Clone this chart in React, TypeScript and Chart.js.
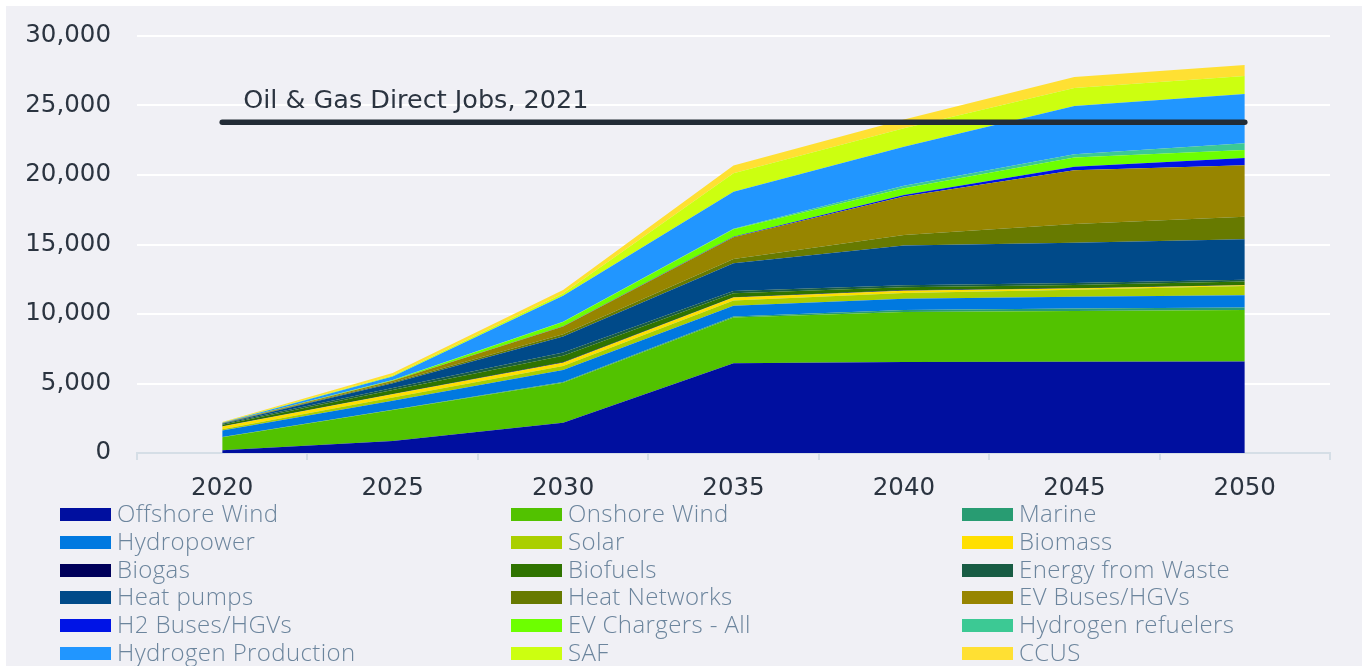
import React, { useEffect, useRef } from 'react';
import { Chart, registerables } from 'chart.js';

Chart.register(...registerables);

// ---------- data ----------
const years = ['2020', '2025', '2030', '2035', '2040', '2045', '2050'];

const offshoreWind = [200, 860, 2180, 6450, 6550, 6570, 6580];
const onshoreWind = [930, 2230, 2880, 3290, 3590, 3650, 3700];
const marine = [20, 30, 50, 80, 150, 170, 180];
const hydropower = [460, 640, 860, 780, 800, 850, 880];
const solar = [100, 240, 290, 380, 420, 500, 670];
const biomass = [190, 220, 240, 200, 170, 100, 60];
const biogas = [20, 30, 30, 20, 20, 20, 20];
const biofuels = [120, 290, 460, 300, 220, 230, 250];
const energyFromWaste = [60, 140, 240, 160, 150, 140, 130];
const heatPumps = [30, 330, 1150, 2000, 2850, 2900, 2900];
const heatNetworks = [10, 80, 170, 290, 770, 1340, 1630];
const evBusesHgvs = [10, 100, 550, 1580, 2760, 3880, 3700];
const h2BusesHgvs = [0, 5, 20, 30, 120, 240, 530];
const evChargersAll = [10, 40, 300, 540, 480, 670, 575];
const hydrogenRefuelers = [5, 10, 20, 40, 170, 240, 480];
const hydrogenProduction = [20, 250, 1880, 2660, 2820, 3460, 3540];
const saf = [10, 80, 150, 1320, 1320, 1300, 1300];
const ccus = [30, 180, 250, 560, 640, 790, 790];

const oilGasDirectJobs2021 = [23800, 23800, 23800, 23800, 23800, 23800, 23800];
const oilGasLabel = 'Oil & Gas Direct Jobs, 2021';

const seriesNames = [
  'Offshore Wind', 'Onshore Wind', 'Marine',
  'Hydropower', 'Solar', 'Biomass',
  'Biogas', 'Biofuels', 'Energy from Waste',
  'Heat pumps', 'Heat Networks', 'EV Buses/HGVs',
  'H2 Buses/HGVs', 'EV Chargers - All', 'Hydrogen refuelers',
  'Hydrogen Production', 'SAF', 'CCUS',
];
const seriesValues = [
  offshoreWind, onshoreWind, marine,
  hydropower, solar, biomass,
  biogas, biofuels, energyFromWaste,
  heatPumps, heatNetworks, evBusesHgvs,
  h2BusesHgvs, evChargersAll, hydrogenRefuelers,
  hydrogenProduction, saf, ccus,
];
const seriesColors = [
  '#000f9f', '#52c200', '#289c72',
  '#0079e0', '#aacf00', '#ffdf00',
  '#00005a', '#2f7300', '#185c44',
  '#004a89', '#677a00', '#978500',
  '#0014e6', '#6dff00', '#3cc994',
  '#2196ff', '#ccff10', '#ffe033',
];

const yTicks = { min: 0, max: 30000, step: 5000 };

const TICK_COLOR = '#2b3440';
const AXIS_COLOR = '#d5dee6';
const BG = '#f0f0f5';

export default function App() {
  const canvasRef = useRef<HTMLCanvasElement | null>(null);

  useEffect(() => {
    if (!canvasRef.current) return;

    const labelPlugin = {
      id: 'oilGasLabel',
      afterDatasetsDraw(chart: any) {
        const { ctx, scales } = chart;
        const x = scales.x.getPixelForValue(0) + 21;
        const y = scales.y.getPixelForValue(oilGasDirectJobs2021[0]) - 14;
        ctx.save();
        ctx.font = '25.5px "DejaVu Sans"';
        ctx.fillStyle = TICK_COLOR;
        ctx.textAlign = 'left';
        ctx.textBaseline = 'alphabetic';
        ctx.fillText(oilGasLabel, x, y);
        ctx.restore();
      },
    };

    const datasets: any[] = [
      {
        type: 'line',
        label: oilGasLabel,
        data: oilGasDirectJobs2021,
        stack: 'oil',
        fill: false,
        borderColor: '#222c36',
        borderWidth: 5.5,
        borderCapStyle: 'round',
        pointRadius: 0,
        tension: 0,
      },
      ...seriesNames.map((name, i) => ({
        type: 'line',
        label: name,
        data: seriesValues[i],
        stack: 'jobs',
        fill: i === 0 ? 'origin' : '-1',
        backgroundColor: seriesColors[i],
        borderColor: seriesColors[i],
        borderWidth: 0,
        pointRadius: 0,
        tension: 0,
      })),
    ];

    const chart = new Chart(canvasRef.current, {
      type: 'line',
      data: { labels: years, datasets },
      plugins: [labelPlugin],
      options: {
        animation: false,
        responsive: false,
        devicePixelRatio: 1,
        layout: { padding: { top: 30, right: 32, left: 0, bottom: 0 } },
        plugins: {
          legend: { display: false },
          tooltip: { enabled: false },
        },
        scales: {
          x: {
            type: 'category',
            offset: true,
            grid: {
              display: true,
              drawOnChartArea: false,
              drawTicks: true,
              tickLength: 7,
              color: AXIS_COLOR,
              lineWidth: 2,
              offset: true,
            },
            border: { display: true, color: AXIS_COLOR, width: 2 },
            ticks: {
              color: TICK_COLOR,
              font: { family: '"DejaVu Sans"', size: 24.5 },
              padding: 14,
              maxRotation: 0,
              autoSkip: false,
            },
            afterFit(scale: any) {
              scale.height = 47;
            },
          },
          y: {
            stacked: true,
            min: yTicks.min,
            max: yTicks.max,
            grid: {
              drawTicks: false,
              lineWidth: 2,
              color: (ctx: any) => (ctx.tick && ctx.tick.value === 0 ? 'rgba(0,0,0,0)' : '#ffffff'),
            },
            border: { display: false },
            ticks: {
              stepSize: yTicks.step,
              color: TICK_COLOR,
              font: { family: '"DejaVu Sans"', size: 24.5 },
              padding: 26,
            },
            afterFit(scale: any) {
              scale.width = 131;
              scale.paddingTop = 10;
              scale.paddingBottom = 10;
            },
          },
        },
      } as any,
    });

    return () => chart.destroy();
  }, []);

  return (
    <div
      style={{
        position: 'absolute',
        left: 6,
        top: 6,
        width: 1356,
        height: 660,
        background: BG,
        overflow: 'hidden',
      }}
    >
      <canvas ref={canvasRef} width={1356} height={494} style={{ display: 'block' }} />
      {seriesNames.map((name, i) => {
        const col = i % 3;
        const row = Math.floor(i / 3);
        return (
          <div
            key={name}
            style={{
              position: 'absolute',
              left: 54 + col * 451,
              top: 508.5 + row * 27.8 - 14,
              height: 28,
              display: 'flex',
              alignItems: 'center',
              whiteSpace: 'nowrap',
            }}
          >
            <span
              style={{
                display: 'inline-block',
                width: 51,
                height: 13,
                background: seriesColors[i],
                marginRight: 6,
              }}
            />
            <span
              style={{
                fontFamily: '"Open Sans", sans-serif',
                fontWeight: 300,
                fontSize: 24,
                letterSpacing: '0.4px',
                lineHeight: '28px',
                marginTop: -3,
                color: '#6c859d',
              }}
            >
              {name}
            </span>
          </div>
        );
      })}
    </div>
  );
}
